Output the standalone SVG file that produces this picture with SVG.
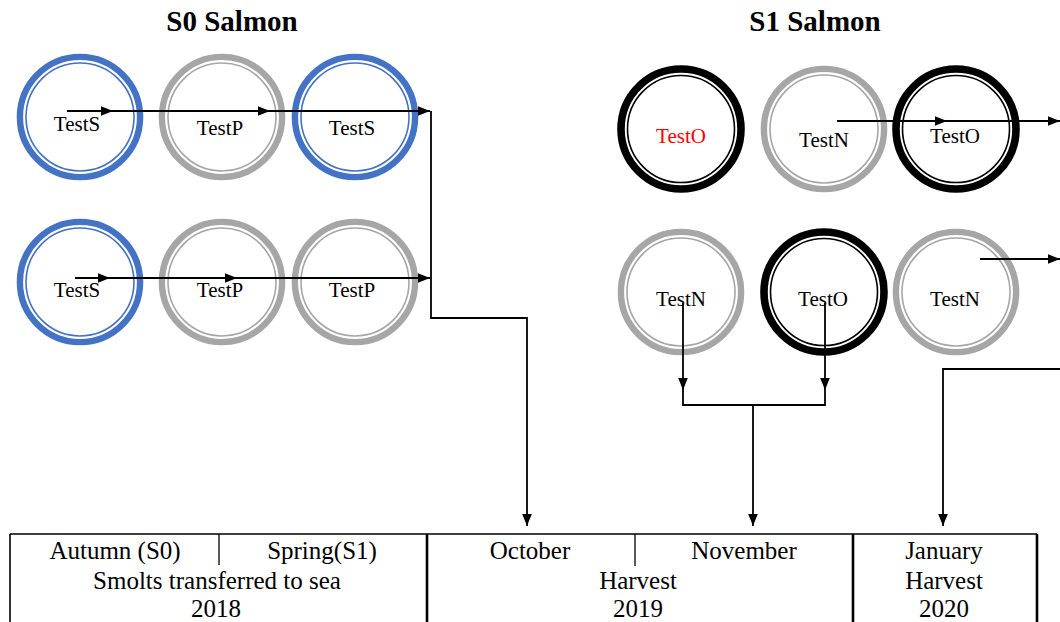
<svg xmlns="http://www.w3.org/2000/svg" width="1060" height="622" viewBox="0 0 1060 622">
<style>
text{font-family:"Liberation Serif","Times New Roman",serif;fill:#000;text-anchor:middle}
.title{font-size:29px;font-weight:bold}
.lbl{font-size:21px}
.tbl{font-size:25px}
.red{fill:#ff0000}
.outer{fill:#fff;stroke-width:6.4}
.inner{fill:none;stroke-width:1.6}
.blue{stroke:#4472c4}
.gray{stroke:#a6a6a6}
.black{stroke:#000}
.blk .outer{stroke-width:7.6}
.conn path{fill:none;stroke:#000;stroke-width:1.8}
.grid path{fill:none;stroke:#000}
</style>
<defs>
<marker id="ah" markerUnits="userSpaceOnUse" markerWidth="13" markerHeight="11" refX="12.5" refY="5" orient="auto">
<path d="M0,0 L12.5,5 L0,10 Z" fill="#000"/>
</marker>
</defs>
<rect width="1060" height="622" fill="#fff"/>
<text class="title" x="232" y="31">S0 Salmon</text>
<text class="title" x="815" y="31">S1 Salmon</text>

<g id="s0-r1-c1"><circle class="outer blue" cx="80" cy="117" r="60.1"/><circle class="inner blue" cx="80" cy="117" r="54"/><text class="lbl" x="77" y="131">TestS</text></g>
<g id="s0-r1-c2"><circle class="outer gray" cx="222" cy="117" r="60.1"/><circle class="inner gray" cx="222" cy="117" r="54"/><text class="lbl" x="220" y="135">TestP</text></g>
<g id="s0-r1-c3"><circle class="outer blue" cx="355" cy="117" r="60.1"/><circle class="inner blue" cx="355" cy="117" r="54"/><text class="lbl" x="352" y="135">TestS</text></g>
<g id="s0-r2-c1"><circle class="outer blue" cx="80" cy="282" r="60.1"/><circle class="inner blue" cx="80" cy="282" r="54"/><text class="lbl" x="77" y="297">TestS</text></g>
<g id="s0-r2-c2"><circle class="outer gray" cx="222" cy="282" r="60.1"/><circle class="inner gray" cx="222" cy="282" r="54"/><text class="lbl" x="220" y="297">TestP</text></g>
<g id="s0-r2-c3"><circle class="outer gray" cx="355" cy="282" r="60.1"/><circle class="inner gray" cx="355" cy="282" r="54"/><text class="lbl" x="352" y="297">TestP</text></g>

<g id="s1-r1-c1" class="blk"><circle class="outer black" cx="681" cy="129" r="60"/><circle class="inner black" cx="681" cy="129" r="53.5"/><text class="lbl red" x="681" y="143">TestO</text></g>
<g id="s1-r1-c2"><circle class="outer gray" cx="824" cy="129" r="60.1"/><circle class="inner gray" cx="824" cy="129" r="54"/><text class="lbl" x="824" y="147">TestN</text></g>
<g id="s1-r1-c3" class="blk"><circle class="outer black" cx="956" cy="129" r="60"/><circle class="inner black" cx="956" cy="129" r="53.5"/><text class="lbl" x="955" y="143">TestO</text></g>
<g id="s1-r2-c1"><circle class="outer gray" cx="681" cy="292" r="60.1"/><circle class="inner gray" cx="681" cy="292" r="54"/><text class="lbl" x="681" y="306">TestN</text></g>
<g id="s1-r2-c2" class="blk"><circle class="outer black" cx="824" cy="292" r="60"/><circle class="inner black" cx="824" cy="292" r="53.5"/><text class="lbl" x="823" y="306">TestO</text></g>
<g id="s1-r2-c3"><circle class="outer gray" cx="956" cy="292" r="60.1"/><circle class="inner gray" cx="956" cy="292" r="54"/><text class="lbl" x="955" y="306">TestN</text></g>

<g id="connectors" class="conn">
<path d="M67,111 H113" marker-end="url(#ah)"/>
<path d="M113,111 H270" marker-end="url(#ah)"/>
<path d="M270,111 H430" marker-end="url(#ah)"/>
<path d="M75,278 H110" marker-end="url(#ah)"/>
<path d="M110,278 H237" marker-end="url(#ah)"/>
<path d="M237,278 H430" marker-end="url(#ah)"/>
<path d="M431,111 V318 H527 V526" marker-end="url(#ah)"/>
<path d="M837,121 H947" marker-end="url(#ah)"/>
<path d="M947,121 H1060" marker-end="url(#ah)"/>
<path d="M980,259 H1060" marker-end="url(#ah)"/>
<path d="M683,303 V390" marker-end="url(#ah)"/>
<path d="M825,303 V390" marker-end="url(#ah)"/>
<path d="M683,390 V405 H825 V390"/>
<path d="M753,405 V526" marker-end="url(#ah)"/>
<path d="M1060,369 H943 V526" marker-end="url(#ah)"/>
</g>

<g id="timeline">
<g class="grid">
<path d="M10,534 H1037" stroke-width="1.6"/>
<path d="M10,534 V622" stroke-width="1.6"/>
<path d="M427,534 V622" stroke-width="2.6"/>
<path d="M853,534 V622" stroke-width="2.6"/>
<path d="M1037,534 V622" stroke-width="2.6"/>
<path d="M219,534 V565" stroke-width="1.3"/>
<path d="M635,534 V566" stroke-width="1.3"/>
</g>
<text class="tbl" x="115" y="559">Autumn (S0)</text>
<text class="tbl" x="322" y="559">Spring(S1)</text>
<text class="tbl" x="217" y="589">Smolts transferred to sea</text>
<text class="tbl" x="216" y="617">2018</text>
<text class="tbl" x="530" y="559">October</text>
<text class="tbl" x="744" y="559">November</text>
<text class="tbl" x="638" y="589">Harvest</text>
<text class="tbl" x="638" y="617">2019</text>
<text class="tbl" x="944" y="559">January</text>
<text class="tbl" x="944" y="589">Harvest</text>
<text class="tbl" x="944" y="617">2020</text>
</g>
</svg>
